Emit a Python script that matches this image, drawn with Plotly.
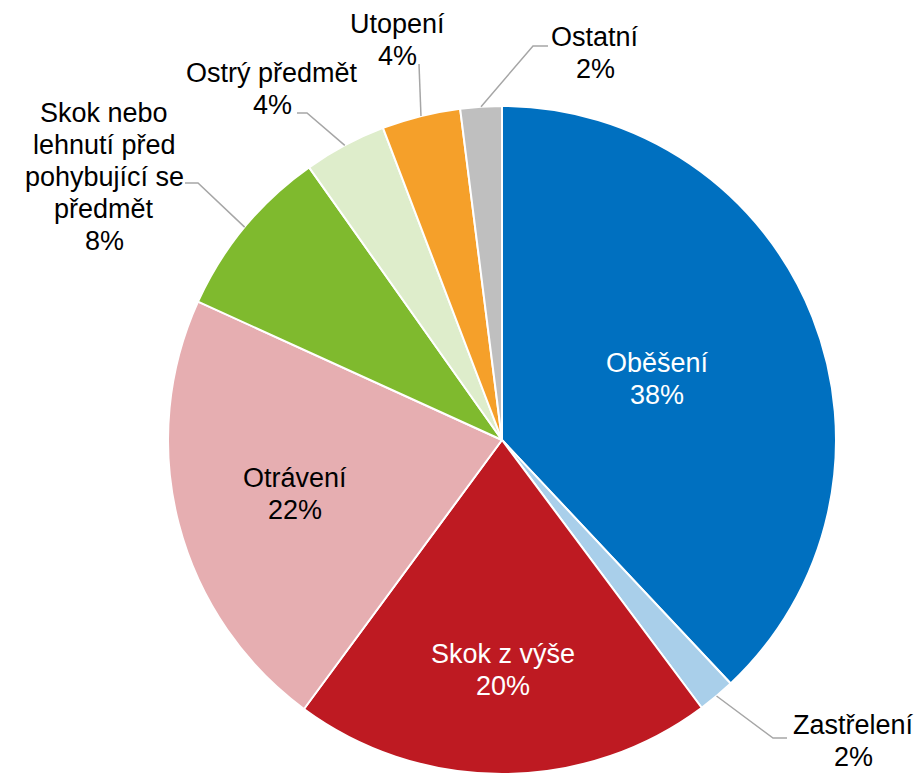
import math
import plotly.graph_objects as go

# ---- data ----
labels = ["Oběšení", "Zastřelení", "Skok z výše", "Otrávení",
          "Skok nebo<br>lehnutí před<br>pohybující se<br>předmět",
          "Ostrý předmět", "Utopení", "Ostatní"]
values = [38.0, 1.8, 20.3, 21.7, 8.4, 4.0, 3.8, 2.0]
colors = ["#0070C0", "#A9CFEA", "#BE1A22", "#E6AEB1",
          "#7FBA2E", "#DEEDCB", "#F5A02A", "#BFBFBF"]
label_colors = ["white", "black", "white", "black",
                "black", "black", "black", "black"]

# ---- layout constants (screen pixels; the page body adds an 8px offset) ----
OFF = 8
W, H = 923 - 2 * OFF, 782 - 2 * OFF
CX, CY, R = 502, 440, 334
FONT = "Liberation Sans, Arial, sans-serif"
FS = 27
LINE_H = 32
LINE = "#A6A6A6"

# inside labels: fraction of radius along the slice's middle angle
inside_layout = {0: 0.5, 2: 0.69, 3: 0.64}
# outside labels: elbow, tail end, text centre
outside_layout = {
    1: dict(elbow=(773, 738), tail=(787, 738), text=(853, 741)),
    4: dict(elbow=(198, 183), tail=(185, 183), text=(104, 177)),
    5: dict(elbow=(307, 113), tail=(297, 113), text=(272, 89)),
    6: dict(elbow=(419, 64), tail=(419, 64), text=(397, 40)),
    7: dict(elbow=(533, 46), tail=(548, 46), text=(595, 53)),
}

def px(x):
    return (x - OFF) / W

def py(y):
    return 1 - (y - OFF) / H

fig = go.Figure(go.Pie(
    labels=labels, values=values, sort=False, direction="clockwise", rotation=0,
    marker=dict(colors=colors, line=dict(color="white", width=2)),
    textinfo="none", hoverinfo="percent", showlegend=False,
    domain=dict(x=[px(CX - R), px(CX + R)], y=[py(CY + R), py(CY - R)]),
))

shapes, annotations = [], []

def add_text(lines, cx, cy, color):
    n = len(lines)
    for k, t in enumerate(lines):
        y = cy + (k - (n - 1) / 2) * LINE_H
        annotations.append(dict(x=px(cx), y=py(y), xref="paper", yref="paper",
                                text=t, showarrow=False, xanchor="center",
                                yanchor="middle",
                                font=dict(family=FONT, size=FS, color=color)))

total = sum(values)
cum = 0.0
for i, v in enumerate(values):
    mid = (cum + v / 2) / total * 2 * math.pi
    cum += v
    pct = f"{round(v / total * 100)}%"
    lines = labels[i].split("<br>") + [pct]
    if i in inside_layout:
        f = inside_layout[i]
        add_text(lines, CX + f * R * math.sin(mid), CY - f * R * math.cos(mid),
                 label_colors[i])
        continue
    spec = outside_layout[i]
    ex, ey = CX + R * math.sin(mid), CY - R * math.cos(mid)
    (bx, by), (tx, ty) = spec["elbow"], spec["tail"]
    shapes.append(dict(type="path", xref="paper", yref="paper",
                       path=f"M {px(ex)} {py(ey)} L {px(bx)} {py(by)} L {px(tx)} {py(ty)}",
                       line=dict(color=LINE, width=1.5)))
    add_text(lines, spec["text"][0], spec["text"][1], label_colors[i])

fig.update_layout(width=W, height=H, margin=dict(l=0, r=0, t=0, b=0),
                  paper_bgcolor="white", plot_bgcolor="white",
                  shapes=shapes, annotations=annotations)
fig.write_html("out.html")
